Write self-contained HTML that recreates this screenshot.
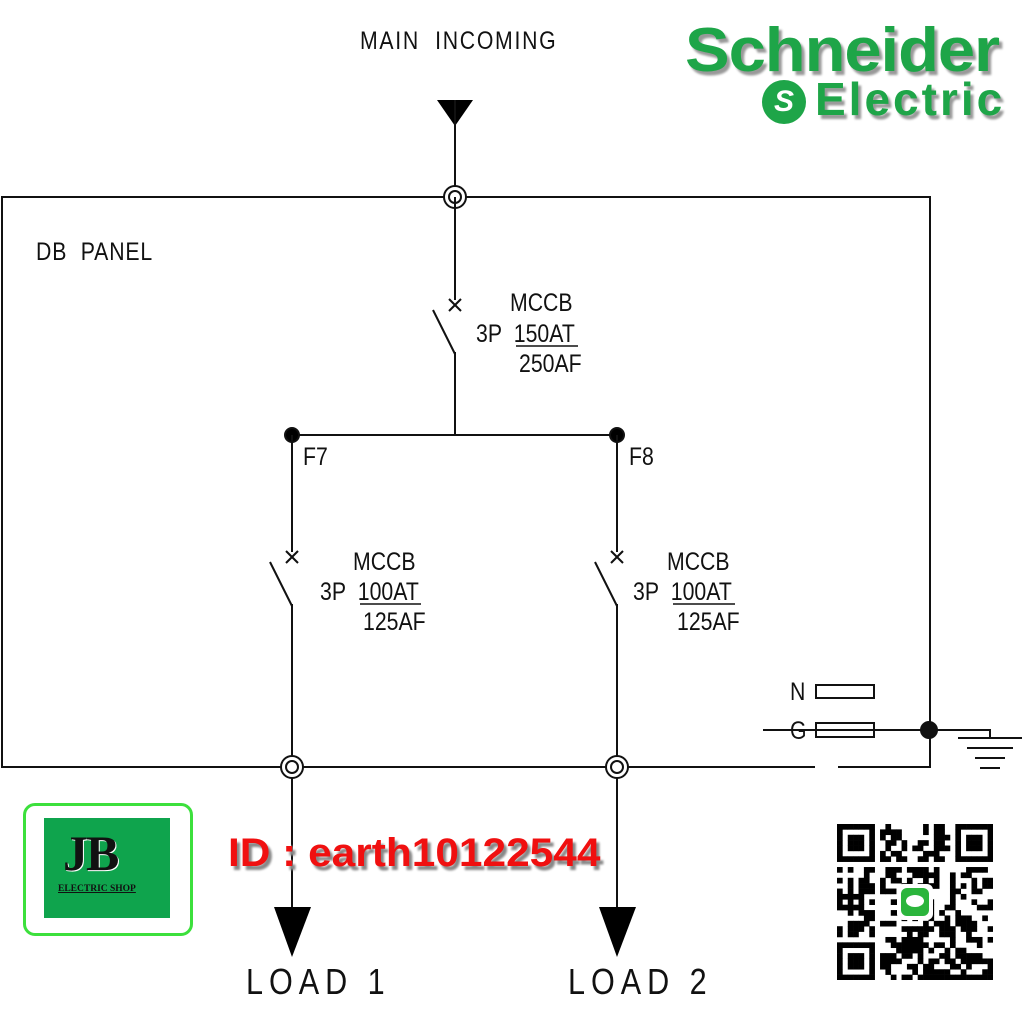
<!DOCTYPE html>
<html><head><meta charset="utf-8"><style>
body{margin:0;width:1024px;height:1024px;background:#fff;overflow:hidden;position:relative;font-family:"Liberation Sans",sans-serif}
.t{position:absolute;font-size:25px;color:#111;transform-origin:0 0;transform:scaleX(0.85);white-space:nowrap;line-height:1}
</style></head><body>
<svg width="1024" height="1024" style="position:absolute;left:0;top:0" stroke="#111" stroke-width="2" fill="none">
<polyline points="815,767 2,767 2,197 930,197 930,767 838,767"/>
<polygon points="437,100 473,100 455,126" fill="#000" stroke="none"/>
<line x1="455" y1="100" x2="455" y2="300"/>
<circle cx="455" cy="197" r="11" fill="#fff"/><circle cx="455" cy="197" r="6"/>
<line x1="455" y1="197" x2="455" y2="300"/>
<line x1="449" y1="299" x2="461" y2="311"/><line x1="461" y1="299" x2="449" y2="311"/>
<line x1="433" y1="310" x2="455" y2="354"/>
<line x1="455" y1="352" x2="455" y2="435"/>
<line x1="292" y1="435" x2="617" y2="435"/>
<circle cx="292" cy="435" r="7" fill="#000"/><circle cx="617" cy="435" r="7" fill="#000"/>
<line x1="292" y1="435" x2="292" y2="552"/>
<line x1="286" y1="551" x2="298" y2="563"/><line x1="298" y1="551" x2="286" y2="563"/>
<line x1="270" y1="562" x2="292" y2="606"/>
<line x1="292" y1="604" x2="292" y2="910"/>
<circle cx="292" cy="767" r="11" fill="#fff"/><circle cx="292" cy="767" r="6"/>
<polygon points="274,907 311,907 292,957" fill="#000" stroke="none"/>
<line x1="617" y1="435" x2="617" y2="552"/>
<line x1="611" y1="551" x2="623" y2="563"/><line x1="623" y1="551" x2="611" y2="563"/>
<line x1="595" y1="562" x2="617" y2="606"/>
<line x1="617" y1="604" x2="617" y2="910"/>
<circle cx="617" cy="767" r="11" fill="#fff"/><circle cx="617" cy="767" r="6"/>
<polygon points="599,907 636,907 617,957" fill="#000" stroke="none"/>
<rect x="816" y="685" width="58" height="13"/>
<rect x="816" y="723" width="58" height="14"/>
<polyline points="763,730 990,730 990,737"/>
<circle cx="929" cy="730" r="8" fill="#111"/>
<line x1="958" y1="738" x2="1022" y2="738"/>
<line x1="967" y1="748" x2="1013" y2="748"/>
<line x1="975" y1="758" x2="1005" y2="758"/>
<line x1="980" y1="768" x2="1000" y2="768"/>
<line x1="516" y1="346" x2="578" y2="346" stroke-width="1.5"/>
<line x1="360" y1="604" x2="421" y2="604" stroke-width="1.5"/>
<line x1="673" y1="604" x2="735" y2="604" stroke-width="1.5"/>
</svg>
<div class="t" style="left:360px;top:29px;letter-spacing:2px">MAIN&nbsp; INCOMING</div>
<div class="t" style="left:36px;top:240px;letter-spacing:1px">DB&nbsp; PANEL</div>
<div class="t" style="left:510px;top:291px">MCCB</div>
<div class="t" style="left:476px;top:322px">3P&nbsp; 150AT</div>
<div class="t" style="left:519px;top:352px">250AF</div>
<div class="t" style="left:303px;top:445px">F7</div>
<div class="t" style="left:629px;top:445px">F8</div>
<div class="t" style="left:353px;top:550px">MCCB</div>
<div class="t" style="left:320px;top:580px">3P&nbsp; 100AT</div>
<div class="t" style="left:363px;top:610px">125AF</div>
<div class="t" style="left:667px;top:550px">MCCB</div>
<div class="t" style="left:633px;top:580px">3P&nbsp; 100AT</div>
<div class="t" style="left:677px;top:610px">125AF</div>
<div class="t" style="left:790px;top:680px">N</div>
<div class="t" style="left:790px;top:719px">G</div>
<div class="t" style="left:246px;top:964px;font-size:36px;letter-spacing:7px">LOAD 1</div>
<div class="t" style="left:568px;top:964px;font-size:36px;letter-spacing:7px">LOAD 2</div>
<div style="position:absolute;left:685px;top:20px;font-size:62px;font-weight:bold;color:#1ea548;letter-spacing:-1px;line-height:1;text-shadow:3px 4px 2px #999;transform-origin:0 0;transform:scaleX(1.08)">Schneider</div>
<div style="position:absolute;left:762px;top:80px;width:44px;height:44px;border-radius:50%;background:#1ea548;color:#fff;font-weight:bold;font-size:30px;text-align:center;line-height:44px;font-style:italic">S</div>
<div style="position:absolute;left:815px;top:76px;font-size:46px;font-weight:bold;color:#1ea548;letter-spacing:3px;line-height:1;text-shadow:3px 4px 2px #999">Electric</div>
<div style="position:absolute;left:23px;top:803px;width:164px;height:127px;border:3px solid #3ce03c;border-radius:12px"></div>
<div style="position:absolute;left:44px;top:818px;width:126px;height:100px;background:#0fa44d"></div>
<div style="position:absolute;left:63px;top:828px;font-family:'Liberation Serif',serif;font-weight:900;font-size:50px;color:#111;line-height:1;text-shadow:1px 1px 0 #fff;letter-spacing:-2px">JB</div>
<div style="position:absolute;left:58px;top:884px;font-family:'Liberation Serif',serif;font-weight:bold;font-size:9.5px;color:#111;text-decoration:underline">ELECTRIC SHOP</div>
<div style="position:absolute;left:228px;top:833px;font-weight:bold;font-size:40px;color:#f01010;line-height:1;text-shadow:3px 4px 2px #888,0 0 2px #fff;transform-origin:0 0;transform:scaleX(1.06)">ID : earth10122544</div>
<svg id="qr" width="156" height="156" style="position:absolute;left:837px;top:824px"></svg>
<script>
(function(){var s=document.getElementById('qr'),n=29,m=156/n,h='',seed=7;
function r(){seed=(seed*1103515245+12345)&0x7fffffff;return seed/0x7fffffff;}
function fin(x,y){return (x<7&&y<7)||(x>=n-7&&y<7)||(x<7&&y>=n-7);}
for(var y=0;y<n;y++)for(var x=0;x<n;x++){var on;
 var fx=x<7?x:(x>=n-7?x-(n-7):-1),fy=y<7?y:(y>=n-7?y-(n-7):-1);
 if(fin(x,y)){var a=Math.max(Math.abs(fx-3),Math.abs(fy-3));on=(a==3||a<=1);}
 else if(x==7||y==7||(x==n-8&&y<8)||(y==n-8&&x<8))on=false;
 else on=r()<0.5;
 if(on)h+='<rect x="'+(x*m).toFixed(2)+'" y="'+(y*m).toFixed(2)+'" width="'+(m+0.3).toFixed(2)+'" height="'+(m+0.3).toFixed(2)+'" fill="#000"/>';}
h+='<rect x="60" y="60" width="36" height="36" rx="6" fill="#fff"/><rect x="64" y="64" width="28" height="28" rx="6" fill="#2bb53c"/><ellipse cx="78" cy="77" rx="9" ry="6" fill="#fff"/>';
s.innerHTML=h;})();
</script>
</body></html>
